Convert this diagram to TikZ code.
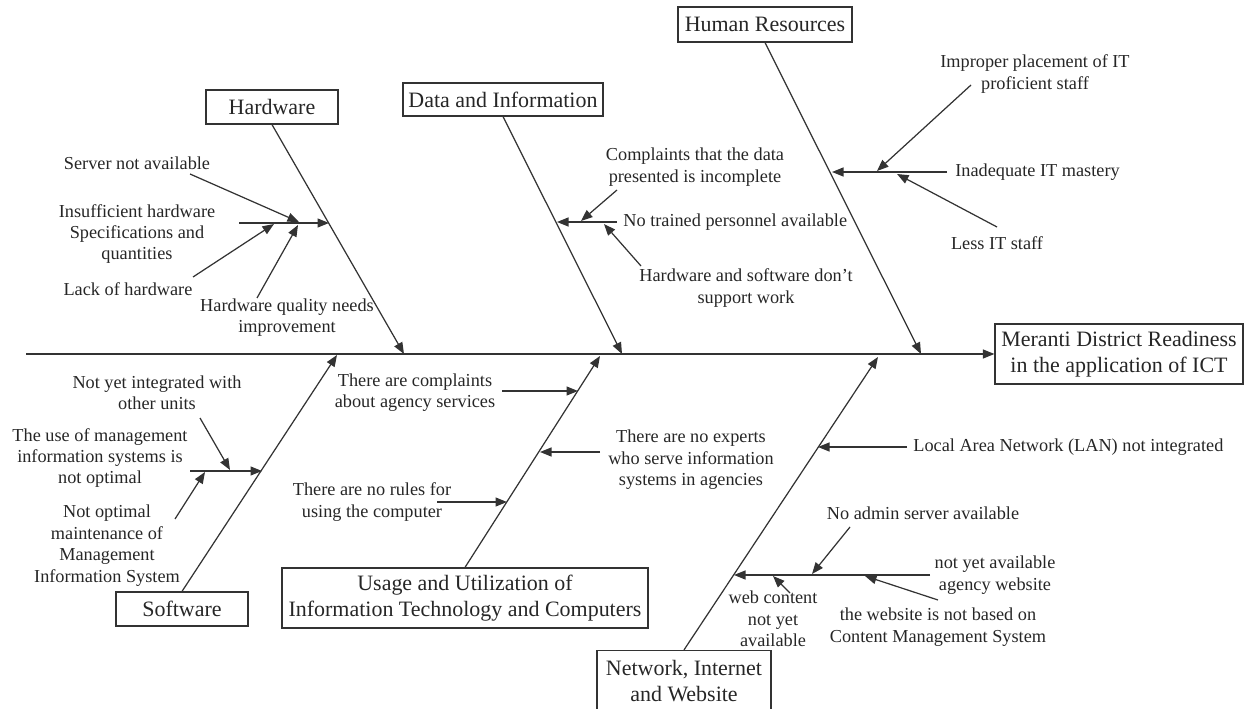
\documentclass[tikz,border=0pt]{standalone}
\usepackage{fontspec}
\setmainfont{Liberation Serif}
\usetikzlibrary{arrows.meta}
\begin{document}
\begin{tikzpicture}[x=0.02cm, y=-0.02cm, >={Triangle[length=2.3mm,width=1.8mm]},
  cat/.style={draw=black!80, line width=0.7pt, align=center, inner sep=0pt,
    text=black!85, font=\fontsize{12.5}{14.5}\selectfont},
  cause/.style={align=center, inner sep=0pt, text=black!85,
    font=\fontsize{10.4}{12.2}\selectfont},
  bone/.style={->, draw=black!80, line width=0.7pt}]
  \useasboundingbox (0,0) rectangle (1244,709);
  \clip (0,0) rectangle (1244,709);
  % head of the fish and the spine
  \node[cat, minimum width=4.96cm, minimum height=1.2cm] (effect) at (1119,354)
    {Meranti District Readiness\\in the application of ICT};
  \coordinate (tail) at (26,354);
  \draw[bone] (tail) -- (effect.west);
  % category boxes
  \node[cat, minimum width=2.64cm, minimum height=0.68cm] (hw) at (272,107) {Hardware};
  \node[cat, minimum width=4cm, minimum height=0.66cm] (data) at (503,99.5) {Data and Information};
  \node[cat, minimum width=3.48cm, minimum height=0.7cm] (hr) at (765,24.5) {Human Resources};
  \node[cat, minimum width=2.64cm, minimum height=0.68cm] (sw) at (182,609) {Software};
  \node[cat, minimum width=7.32cm, minimum height=1.2cm] (use) at (465,598)
    {Usage and Utilization of\\Information Technology and Computers};
  \node[cat, minimum width=3.48cm, minimum height=1.22cm] (net) at (684,681)
    {Network, Internet\\and Website};
  % main bones
  \coordinate (hwS) at (404,354);
  \coordinate (dataS) at (622,354);
  \coordinate (hrS) at (921,354);
  \coordinate (swS) at (337,355);
  \coordinate (useS) at (600,356);
  \coordinate (netS) at (878,357);
  \draw[bone] (hw.south) -- (hwS);
  \draw[bone] (data.south) -- (dataS);
  \draw[bone] (hr.south) -- (hrS);
  \draw[bone] (sw.north) -- (swS);
  \draw[bone] (use.north) -- (useS);
  \draw[bone] (net.north) -- (netS);

  % hardware causes
  \node[cause] (hwServer) at (137,163) {Server not available};
  \node[cause] (hwSpec) at (137,234) {Insufficient hardware\\Specifications and\\quantities};
  \node[cause] (hwLack) at (128,289) {Lack of hardware};
  \node[cause] (hwQual) at (287,317.5) {Hardware quality needs\\improvement};
  \coordinate (hwL) at (239,223);
  \coordinate (hwB) at (329,223);
  \draw[bone] (hwL) -- (hwB);
  \coordinate (hwServerA) at (190,174);
  \coordinate (hwServerT) at (299,222);
  \coordinate (hwLackA) at (193,277);
  \coordinate (hwLackT) at (274,224);
  \coordinate (hwQualA) at (257,298);
  \coordinate (hwQualT) at (298,225);
  \draw[bone] (hwServerA) -- (hwServerT);
  \draw[bone] (hwLackA) -- (hwLackT);
  \draw[bone] (hwQualA) -- (hwQualT);

  % data and information causes
  \node[cause] (dataCompl) at (695,167) {Complaints that the data\\presented is incomplete};
  \node[cause, anchor=west] (dataStaff) at (623,222) {No trained personnel available};
  \node[cause] (dataHwSw) at (746,288) {Hardware and software don't\\support work};
  \coordinate (dataR) at (617,222);
  \coordinate (dataB) at (557,222);
  \draw[bone] (dataR) -- (dataB);
  \coordinate (dataComplA) at (617,190);
  \coordinate (dataComplT) at (581,221);
  \coordinate (dataHwSwA) at (641,266);
  \coordinate (dataHwSwT) at (604,224);
  \draw[bone] (dataComplA) -- (dataComplT);
  \draw[bone] (dataHwSwA) -- (dataHwSwT);

  % human resources causes
  \node[cause] (hrPlace) at (1035,74) {Improper placement of IT\\proficient staff};
  \node[cause, anchor=west] (hrMastery) at (955,172) {Inadequate IT mastery};
  \node[cause] (hrLess) at (997,243) {Less IT staff};
  \coordinate (hrR) at (947,172);
  \coordinate (hrB) at (832,172);
  \draw[bone] (hrR) -- (hrB);
  \coordinate (hrPlaceA) at (971,85);
  \coordinate (hrPlaceT) at (877,171);
  \coordinate (hrLessA) at (997,227);
  \coordinate (hrLessT) at (897,174);
  \draw[bone] (hrPlaceA) -- (hrPlaceT);
  \draw[bone] (hrLessA) -- (hrLessT);

  % software causes
  \node[cause] (swInteg) at (157,392.5) {Not yet integrated with\\other units};
  \node[cause] (swUse) at (100,458) {The use of management\\information systems is\\not optimal};
  \node[cause] (swMaint) at (107,545.5) {Not optimal\\maintenance of\\Management\\Information System};
  \coordinate (swL) at (190,471);
  \coordinate (swB) at (262,471);
  \draw[bone] (swL) -- (swB);
  \coordinate (swIntegA) at (200,418);
  \coordinate (swIntegT) at (230,470);
  \coordinate (swMaintA) at (175,519);
  \coordinate (swMaintT) at (205,472);
  \draw[bone] (swIntegA) -- (swIntegT);
  \draw[bone] (swMaintA) -- (swMaintT);

  % usage and utilization causes
  \node[cause] (useCompl) at (415,392.5) {There are complaints\\about agency services};
  \node[cause] (useRules) at (372,502) {There are no rules for\\using the computer};
  \node[cause] (useExpert) at (691,460) {There are no experts\\who serve information\\systems in agencies};
  \coordinate (useComplA) at (502,391);
  \coordinate (useComplT) at (578,391);
  \coordinate (useRulesA) at (437,502);
  \coordinate (useRulesT) at (507,502);
  \coordinate (useExpertA) at (600,452);
  \coordinate (useExpertT) at (540,452);
  \draw[bone] (useComplA) -- (useComplT);
  \draw[bone] (useRulesA) -- (useRulesT);
  \draw[bone] (useExpertA) -- (useExpertT);

  % network, internet and website causes
  \node[cause, anchor=west] (netLan) at (913,447) {Local Area Network (LAN) not integrated};
  \node[cause] (netAdmin) at (923,513) {No admin server available};
  \node[cause] (netSite) at (995,575) {not yet available\\agency website};
  \node[cause] (netContent) at (773,619) {web content\\not yet\\available};
  \node[cause] (netCms) at (938,627) {the website is not based on\\Content Management System};
  \coordinate (netLanA) at (907,447);
  \coordinate (netLanT) at (818,447);
  \draw[bone] (netLanA) -- (netLanT);
  \coordinate (netR) at (930,575);
  \coordinate (netB) at (734,575);
  \draw[bone] (netR) -- (netB);
  \coordinate (netAdminA) at (850,527);
  \coordinate (netAdminT) at (812,574);
  \coordinate (netContentA) at (790,593);
  \coordinate (netContentT) at (773,576);
  \coordinate (netCmsA) at (938,600);
  \coordinate (netCmsT) at (865,576);
  \draw[bone] (netAdminA) -- (netAdminT);
  \draw[bone] (netContentA) -- (netContentT);
  \draw[bone] (netCmsA) -- (netCmsT);
\end{tikzpicture}
\end{document}
